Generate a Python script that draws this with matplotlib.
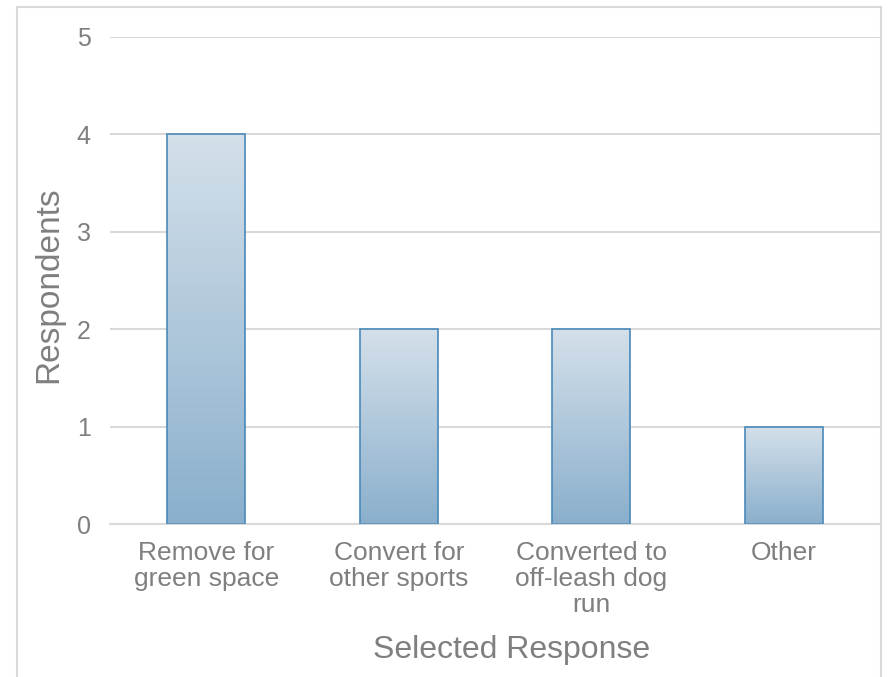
import matplotlib
matplotlib.use("Agg")
import matplotlib.pyplot as plt
import numpy as np
from matplotlib.colors import LinearSegmentedColormap
from matplotlib.patches import Rectangle

categories = ["Remove for\ngreen space", "Convert for\nother sports",
              "Converted to\noff-leash dog\nrun", "Other"]
values = [4, 2, 2, 1]
yticks = [0, 1, 2, 3, 4, 5]

plt.rcParams['font.family'] = ['Liberation Sans', 'DejaVu Sans']
txt = '#7f7f7f'

fig = plt.figure(figsize=(8.88, 6.77), dpi=100)
W, H = 888, 677
ax = fig.add_axes([110 / W, 1 - 524 / H, 770 / W, (524 - 37) / H])

# outer frame
fig.patches.append(Rectangle((17 / W, -0.1), (881 - 17) / W, 1.1 - 7 / H,
                             transform=fig.transFigure, fill=False,
                             edgecolor='#d9d9d9', linewidth=1.5))

x = np.arange(len(categories))
bars = ax.bar(x, values, width=0.405, color='none', edgecolor='#4a89b9',
              linewidth=1.2, zorder=3)

cmap = LinearSegmentedColormap.from_list('g', ['#8aafcc', '#d4e0ea'])
grad = np.linspace(0, 1, 256).reshape(-1, 1)
for b in bars:
    x0, y0 = b.get_x(), b.get_y()
    w, h = b.get_width(), b.get_height()
    im = ax.imshow(grad, cmap=cmap, origin='lower', aspect='auto',
                   extent=[x0, x0 + w, y0, y0 + h], zorder=2)
    im.set_clip_path(b)

ax.set_xlim(-0.5, len(categories) - 0.5)
ax.set_ylim(0, 5)
ax.set_yticks(yticks)
ax.set_xticks(x)
ax.set_xticklabels(categories, fontsize=19, color=txt, linespacing=1.12)
ax.tick_params(axis='y', labelsize=18, labelcolor=txt, length=0, pad=14)
ax.tick_params(axis='x', length=0, pad=12)
ax.grid(axis='y', color='#d9d9d9', linewidth=1.5, zorder=0)
ax.set_axisbelow(True)
for s in ['top', 'right', 'left']:
    ax.spines[s].set_visible(False)
ax.spines['bottom'].set_color('#d9d9d9')
ax.spines['bottom'].set_linewidth(1.5)

fig.text(512 / W, 1 - 658 / H, "Selected Response", fontsize=23, color=txt,
         ha='center', va='baseline')
fig.text(49 / W, 1 - 285 / H, "Respondents", fontsize=24, color=txt,
         ha='center', va='center', rotation=90)

fig.savefig("out.png", dpi=100)
